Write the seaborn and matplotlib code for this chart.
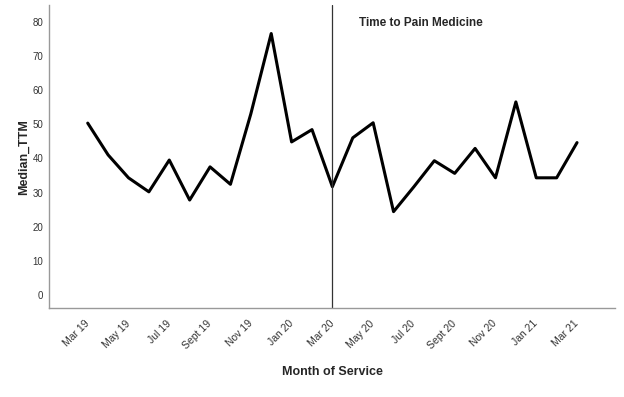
import matplotlib
matplotlib.use('Agg')
import pandas as pd
import seaborn as sns
import matplotlib.pyplot as plt

# --- Styling ---
sns.set_style("white")
plt.rcParams['font.family'] = ['Liberation Sans', 'DejaVu Sans']

# Monthly median time to pain medicine, Mar 19 .. Mar 21
months = ['Mar 19', 'Apr 19', 'May 19', 'Jun 19', 'Jul 19', 'Aug 19', 'Sept 19', 'Oct 19',
          'Nov 19', 'Dec 19', 'Jan 20', 'Feb 20', 'Mar 20', 'Apr 20', 'May 20', 'Jun 20',
          'Jul 20', 'Aug 20', 'Sept 20', 'Oct 20', 'Nov 20', 'Dec 20', 'Jan 21', 'Feb 21', 'Mar 21']
median_ttm = [50.3, 41.0, 34.3, 30.2, 39.5, 27.8, 37.5, 32.4, 53.0, 76.5, 44.8, 48.4, 31.7,
              46.0, 50.4, 24.4, 31.7, 39.3, 35.6, 42.9, 34.3, 56.5, 34.3, 34.3, 44.6]
tick_labels = months[::2]
y_ticks = [0, 10, 20, 30, 40, 50, 60, 70, 80]

df = pd.DataFrame({'idx': range(len(months)), 'month': months, 'Median_TTM': median_ttm})

fig = plt.figure(figsize=(6.24, 3.97), dpi=100)
ax = fig.add_axes([0.0785, 0.224, 0.907, 0.763])
sns.lineplot(data=df, x='idx', y='Median_TTM', color='black', linewidth=2.2, ax=ax)

# intervention marker at Mar 20
ax.axvline(months.index('Mar 20'), color='#333333', linewidth=0.9)

ax.set_xlim(-1.9, len(months) - 1 + 1.86)
ax.set_ylim(-3.8, 84.8)
ax.set_xticks(range(0, len(months), 2))
ax.set_xticklabels(tick_labels, rotation=45, ha='right', va='center', rotation_mode='anchor',
                   fontsize=7.5, color='#333333')
ax.set_yticks(y_ticks)
ax.set_yticklabels([str(v) for v in y_ticks], fontsize=7, color='#333333')
ax.tick_params(axis='x', length=4, color='#aaaaaa', pad=6)
ax.tick_params(axis='y', length=0, pad=4)

for s in ['top', 'right']:
    ax.spines[s].set_visible(False)
for s in ['left', 'bottom']:
    ax.spines[s].set_color('#999999')
    ax.spines[s].set_linewidth(1.0)

ax.set_xlabel('Month of Service', fontsize=9, fontweight='bold', labelpad=11)
ax.set_ylabel('Median_TTM', fontsize=9, fontweight='bold', labelpad=2)
ax.text(0.547, 0.94, 'Time to Pain Medicine', transform=ax.transAxes, fontsize=8.5,
        fontweight='bold', ha='left', va='center')

fig.savefig('out.png', dpi=100)
